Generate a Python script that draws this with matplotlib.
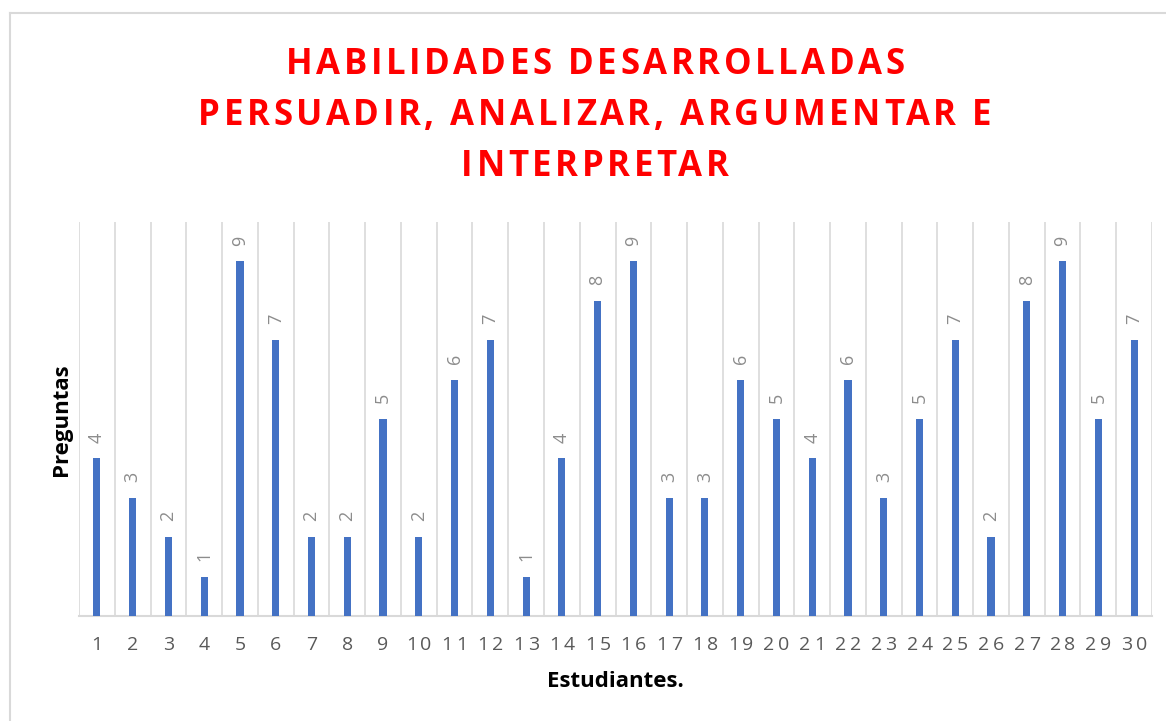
import matplotlib
matplotlib.use('Agg')
import matplotlib.pyplot as plt
from matplotlib.lines import Line2D

# data
estudiantes = [str(i) for i in range(1, 31)]
preguntas = [4, 3, 2, 1, 9, 7, 2, 2, 5, 2, 6, 7, 1, 4, 8, 9, 3, 3, 6, 5,
             4, 6, 3, 5, 7, 2, 8, 9, 5, 7]
title_lines = ['HABILIDADES DESARROLLADAS',
               'PERSUADIR, ANALIZAR, ARGUMENTAR E',
               'INTERPRETAR']

plt.rcParams['font.family'] = ['Open Sans', 'DejaVu Sans']

W, H = 1166, 721
fig = plt.figure(figsize=(W / 100, H / 100), dpi=100)
renderer = fig.canvas.get_renderer()


def text_width(s, **kw):
    t = fig.text(0, 0, s, **kw)
    w = t.get_window_extent(renderer).width
    t.remove()
    return w


def tracked_text(s, cx, baseline, spacing, **kw):
    """Draw text centred at pixel (cx, baseline) with extra letter spacing."""
    total = text_width(s, **kw) + spacing * (len(s) - 1)
    start = -total / 2
    for i, ch in enumerate(s):
        if ch == ' ':
            continue
        off = start + text_width(s[:i + 1], **kw) - text_width(ch, **kw) + i * spacing
        fig.text((cx + off) / W, 1 - baseline / H, ch,
                 ha='left', va='baseline', **kw)


ax = fig.add_axes([79 / W, 1 - 616 / H, (1152 - 79) / W, (616 - 222) / H])

x = list(range(len(preguntas)))
ax.bar(x, preguntas, width=0.2, color='#4472C4', zorder=3)

for xi, v in zip(x, preguntas):
    ax.text(xi, v + 0.4, str(v), rotation=90, ha='center', va='bottom',
            fontsize=13, color='#8C8C8C')

ax.set_xlim(-0.5, len(preguntas) - 0.5)
ax.set_ylim(0, 10)

# vertical gridlines on category boundaries
for b in range(len(preguntas) + 1):
    ax.axvline(b - 0.5, color='#D9D9D9', linewidth=1.2, zorder=1)

ax.set_xticks([])
ax.set_yticks([])
for side in ['top', 'right', 'left']:
    ax.spines[side].set_visible(False)
ax.spines['bottom'].set_color('#D9D9D9')
ax.spines['bottom'].set_linewidth(1.5)

# tick labels with Office-like letter spacing
for xi, lab in zip(x, estudiantes):
    px = ax.transData.transform((xi, 0))[0]
    tracked_text(lab, px, 650, 3.5, fontsize=14, color='#595959')

# axis titles
fig.text(615 / W, 1 - 687 / H, 'Estudiantes.', ha='center', va='baseline',
         fontsize=16, fontweight='bold', color='black')
fig.text(62 / W, 1 - 420 / H, 'Preguntas', rotation=90, ha='center', va='center',
         fontsize=16, fontweight='bold', color='black')

for i, line in enumerate(title_lines):
    tracked_text(line, 595, 74 + 51 * i, 3.6, fontsize=25, fontweight='bold',
                 color='#FF0000')

# chart border (left and top edges visible)
fig.add_artist(Line2D([10 / W, 10 / W], [0, 1 - 13 / H], transform=fig.transFigure,
                      color='#D9D9D9', linewidth=1.5))
fig.add_artist(Line2D([10 / W, 1], [1 - 13 / H, 1 - 13 / H], transform=fig.transFigure,
                      color='#D9D9D9', linewidth=1.5))

fig.savefig('out.png', dpi=100)
